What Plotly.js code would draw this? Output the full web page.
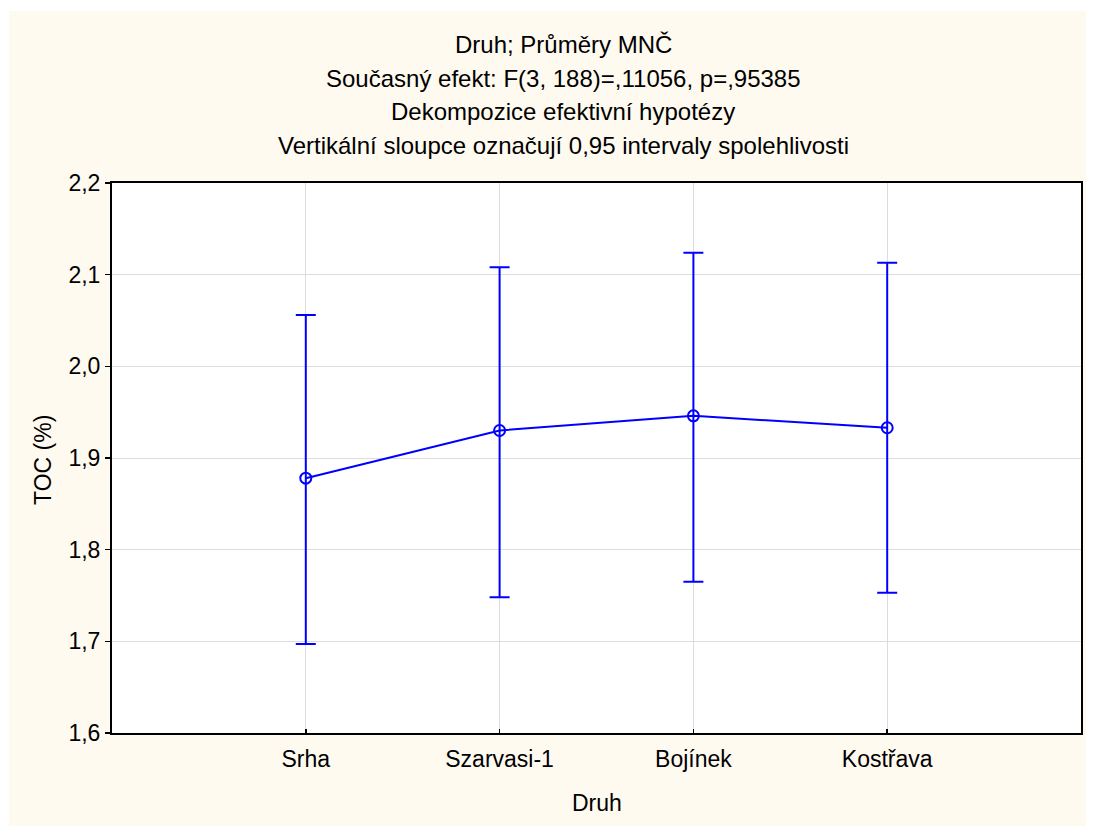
<!DOCTYPE html>
<html>
<head>
<meta charset="utf-8">
<script src="https://cdn.plot.ly/plotly-3.0.1.min.js"></script>
<style>html,body{margin:0;padding:0;background:#fff;}#chart{width:1095px;height:826px;}</style>
</head>
<body>
<div id="chart"></div>
<script>
// Data
const categories = ["Srha", "Szarvasi-1", "Bojínek", "Kostřava"];
const means = [1.878, 1.930, 1.946, 1.933];
const upper95 = [2.056, 2.108, 2.124, 2.113];
const lower95 = [1.697, 1.748, 1.765, 1.753];
const yTicks = [1.6, 1.7, 1.8, 1.9, 2.0, 2.1, 2.2];
const titleLines = [
  "Druh; Průměry MNČ",
  "Současný efekt: F(3, 188)=,11056, p=,95385",
  "Dekompozice efektivní hypotézy",
  "Vertikální sloupce označují 0,95 intervaly spolehlivosti"
];

const W = 1095, H = 826;
const L = 112, R = 1081, T = 183, B = 733;
const px = X => (X - L) / (R - L);
const py = Y => (B - Y) / (B - T);

const FONT = "Liberation Sans, Arial, sans-serif";
const FS = 23;
const FT = 24;
const blue = "#0000FF";

const trace = {
  x: categories.map((c, i) => i),
  y: means,
  type: "scatter",
  mode: "lines+markers",
  line: {color: blue, width: 2},
  marker: {symbol: "circle-open", size: 11, color: blue, line: {color: blue, width: 2}},
  error_y: {
    type: "data",
    symmetric: false,
    array: upper95.map((u, i) => u - means[i]),
    arrayminus: means.map((m, i) => m - lower95[i]),
    color: blue,
    thickness: 2,
    width: 10
  },
  hoverinfo: "skip",
  showlegend: false
};

const annotations = titleLines.map((t, i) => ({
  text: t, xref: "paper", yref: "paper",
  x: px(563), y: py([45, 78.5, 112, 145.5][i]),
  xanchor: "center", yanchor: "middle", showarrow: false,
  font: {family: FONT, size: FT, color: "#000"}
}));
annotations.push({
  text: "TOC (%)", xref: "paper", yref: "paper",
  x: px(43), y: py(460), textangle: -90,
  xanchor: "center", yanchor: "middle", showarrow: false,
  font: {family: FONT, size: FS, color: "#000"}
});
annotations.push({
  text: "Druh", xref: "paper", yref: "paper",
  x: 0.5, y: py(803),
  xanchor: "center", yanchor: "middle", showarrow: false,
  font: {family: FONT, size: FS, color: "#000"}
});

const layout = {
  width: W, height: H,
  margin: {l: L, r: W - R, t: T, b: H - B, pad: 0},
  paper_bgcolor: "#FFFFFF",
  plot_bgcolor: "rgba(0,0,0,0)",
  separators: ",.",
  showlegend: false,
  shapes: [
    {type: "rect", xref: "paper", yref: "paper", layer: "below",
     x0: px(9), x1: px(1086), y0: py(11), y1: py(826),
     fillcolor: "#FFFAF0", line: {width: 0}},
    {type: "rect", xref: "paper", yref: "paper", layer: "below",
     x0: 0, x1: 1, y0: 0, y1: 1,
     fillcolor: "#FFFFFF", line: {width: 0}}
  ],
  xaxis: {
    range: [-1, 4],
    tickmode: "array",
    tickvals: categories.map((c, i) => i),
    ticktext: categories,
    ticks: "inside", ticklen: 4, tickwidth: 1.5, tickcolor: "#000",
    ticklabelstandoff: 4,
    showline: true, linecolor: "#000", linewidth: 2, mirror: true,
    showgrid: true, gridcolor: "#DCDCDC", gridwidth: 1,
    zeroline: false,
    tickfont: {family: FONT, size: FS, color: "#000"},
    fixedrange: true
  },
  yaxis: {
    range: [1.6, 2.2],
    tickmode: "array",
    tickvals: yTicks,
    ticktext: yTicks.map(v => v.toFixed(1).replace(".", ",")),
    ticks: "outside", ticklen: 5, tickwidth: 1.5, tickcolor: "#000",
    showline: true, linecolor: "#000", linewidth: 2, mirror: true,
    showgrid: true, gridcolor: "#DCDCDC", gridwidth: 1,
    zeroline: false,
    tickfont: {family: FONT, size: FS, color: "#000"},
    fixedrange: true
  },
  annotations: annotations
};

Plotly.newPlot("chart", [trace], layout, {displayModeBar: false, staticPlot: true});
</script>
</body>
</html>
